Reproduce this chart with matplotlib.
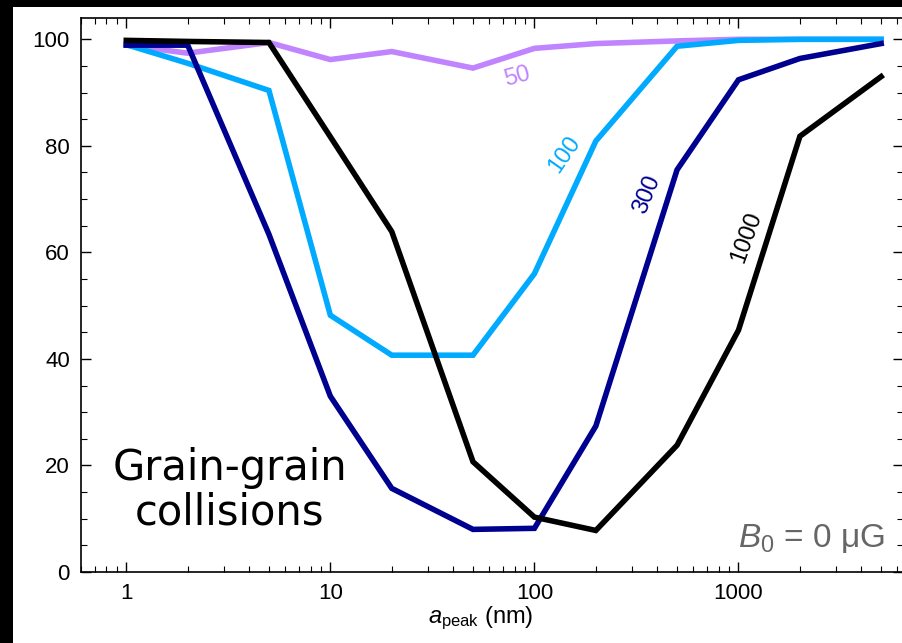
import matplotlib
matplotlib.use("Agg")
import matplotlib.pyplot as plt
from matplotlib.patches import Rectangle
from matplotlib.ticker import MultipleLocator, LogLocator, NullFormatter, FixedLocator, FixedFormatter
import numpy as np

plt.rcParams['font.family'] = ['Liberation Sans', 'DejaVu Sans']
plt.rcParams['mathtext.fontset'] = 'custom'
plt.rcParams['mathtext.rm'] = 'Liberation Sans'
plt.rcParams['mathtext.it'] = 'Liberation Sans:italic'

# peak grain radius (nm)
a_peak = [1, 2, 5, 10, 20, 50, 100, 200, 500, 1000, 2000, 5000]

# fraction surviving (%) for each curve
surv_50 = [98.9, 97.4, 99.4, 96.2, 97.7, 94.6, 98.3, 99.2, 99.7, 100, 100, 100]
surv_100 = [99.0, 95.5, 90.4, 48.2, 40.7, 40.7, 56.0, 80.9, 98.7, 99.8, 100, 100]
surv_300 = [98.9, 98.9, 63.4, 33.0, 15.7, 8.0, 8.2, 27.4, 75.5, 92.4, 96.4, 99.2]
surv_1000 = [99.8, 99.6, 99.4, 81.7, 63.9, 20.7, 10.3, 7.8, 23.8, 45.4, 81.8, 93.0]

curve_names = ['50', '100', '300', '1000']
curve_colors = ['#c084ff', '#00aaff', '#000090', 'black']
# where each curve name sits (x, y, rotation)
label_x = [82, 141, 355, 1099]
label_y = [93.0, 78.3, 70.8, 62.9]
label_rot = [15, 55, 68, 70]

W, H = 902, 643
fig = plt.figure(figsize=(W / 100, H / 100), dpi=100)
fig.patch.set_facecolor('black')
fig.patches.append(Rectangle((13 / W, 0), 1, 1 - 7 / H, transform=fig.transFigure,
                             facecolor='white', edgecolor='none', zorder=-1))

ax = fig.add_axes([81 / W, 71 / H, 822 / W, 554 / H])

for ys, c in zip([surv_50, surv_100, surv_300, surv_1000], curve_colors):
    ax.plot(a_peak, ys, color=c, lw=4, solid_joinstyle='miter')

for name, c, x, y, r in zip(curve_names, curve_colors, label_x, label_y, label_rot):
    ax.text(x, y, name, color=c, fontsize=17, rotation=r, ha='center', va='center')

ax.set_xscale('log')
ax.set_xlim(0.6, 6400)
ax.set_ylim(0, 104)

ax.xaxis.set_major_locator(FixedLocator([1, 10, 100, 1000]))
ax.xaxis.set_major_formatter(FixedFormatter(['1', '10', '100', '1000']))
ax.xaxis.set_minor_locator(LogLocator(base=10, subs=np.arange(2, 10), numticks=20))
ax.xaxis.set_minor_formatter(NullFormatter())
ax.yaxis.set_major_locator(MultipleLocator(20))
ax.yaxis.set_minor_locator(MultipleLocator(5))

ax.tick_params(which='both', direction='in', top=True, right=True, labelsize=16, pad=8)
ax.tick_params(which='major', length=7, width=1)
ax.tick_params(which='minor', length=4, width=0.8)
for s in ax.spines.values():
    s.set_linewidth(1.2)

ax.set_xlabel(r'$a_{\rm peak}$ (nm)', fontsize=17)
ax.xaxis.set_label_coords(400 / 822, -0.058)

ax.text(0.181, 0.1476, 'Grain-grain\ncollisions', transform=ax.transAxes,
        family='DejaVu Sans', fontsize=30, ha='center', va='center',
        multialignment='center', linespacing=1.08)
ax.text(0.978, 0.045, r'$B_0$ = 0 μG', transform=ax.transAxes, color='#666666',
        fontsize=24, ha='right', va='baseline')

fig.savefig('out.png', dpi=100, facecolor=fig.get_facecolor())
